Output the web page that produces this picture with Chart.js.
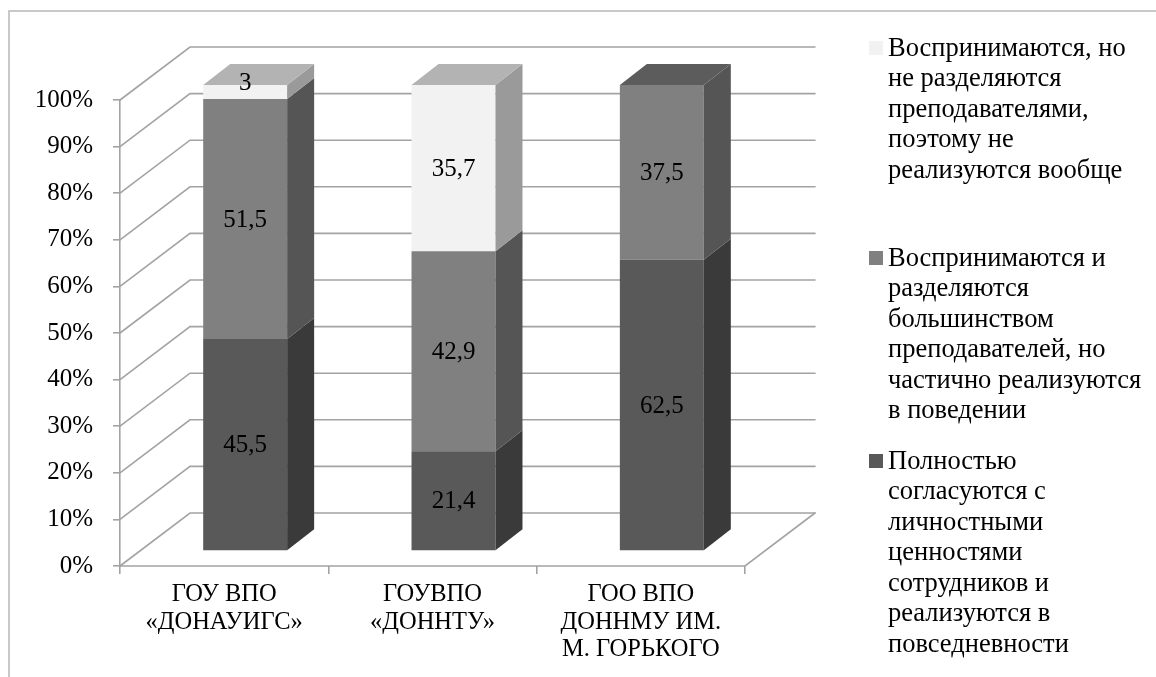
<!DOCTYPE html>
<html lang="ru">
<head>
<meta charset="utf-8">
<title>Ценности организационной культуры</title>
<script src="https://cdn.jsdelivr.net/npm/chart.js@4.4.1/dist/chart.umd.min.js"></script>
<style>
  html, body { margin: 0; padding: 0; background: #ffffff; }
  #wrap { width: 1156px; height: 677px; position: relative; }
  canvas { display: block; }
</style>
</head>
<body>
<div id="wrap"><canvas id="chart" width="1156" height="677"></canvas></div>
<script>
// Universities (multi-line axis labels)
const categories = [
  ["ГОУ ВПО", "«ДОНАУИГС»"],
  ["ГОУВПО", "«ДОННТУ»"],
  ["ГОО ВПО", "ДОННМУ ИМ.", "М. ГОРЬКОГО"]
];

// Shares, % (stacked from the bottom up)
const fullyAgree        = [45.5, 21.4, 62.5];
const acceptedShared    = [51.5, 42.9, 37.5];
const acceptedNotShared = [3, 35.7, 0];

// Series names, split into lines as shown in the legend
const nameFullyAgree = ["Полностью", "согласуются с", "личностными", "ценностями",
                        "сотрудников и", "реализуются в", "повседневности"];
const nameAcceptedShared = ["Воспринимаются и", "разделяются", "большинством",
                            "преподавателей, но", "частично реализуются", "в поведении"];
const nameAcceptedNotShared = ["Воспринимаются, но", "не разделяются", "преподавателями,",
                               "поэтому не", "реализуются вообще"];

// Value axis ticks
const yTicks = [0, 10, 20, 30, 40, 50, 60, 70, 80, 90, 100];

// Shading for the three box faces of each series
const palette = {
  dark:   { front: "#595959", side: "#3a3a3a", top: "#4a4a4a" },
  medium: { front: "#808080", side: "#555555", top: "#5c5c5c" },
  light:  { front: "#f2f2f2", side: "#9a9a9a", top: "#b3b3b3" }
};

const FONT_FAMILY = '"Liberation Serif", "Times New Roman", serif';
const GRID_COLOR = "#a3a3a3";
const WALL_DEPTH = { x: 70, y: -53 };   // back wall offset from the front plane
const BAR_SHIFT  = { x: 21, y: -15 };   // bars stand in the middle of the floor
const BAR_DEPTH  = { x: 27, y: -21 };   // thickness of each column

function fmt(v) { return String(v).replace(".", ","); }

// Frame, 3D walls/floor, column sides and tops, value labels, legend
const scene3d = {
  id: "scene3d",
  beforeDraw(chart) {
    const ctx = chart.ctx;
    ctx.save();
    ctx.strokeStyle = "#b8b8b8";
    ctx.lineWidth = 1.5;
    ctx.beginPath();
    ctx.moveTo(9, 677);
    ctx.lineTo(9, 11);
    ctx.lineTo(1156, 11);
    ctx.stroke();
    ctx.restore();
  },
  beforeDatasetsDraw(chart) {
    const ctx = chart.ctx;
    const yScale = chart.scales.y;
    const { left, right, bottom } = chart.chartArea;
    ctx.save();
    ctx.strokeStyle = GRID_COLOR;
    ctx.lineWidth = 1.6;
    ctx.lineCap = "round";
    yTicks.forEach(v => {
      const y = yScale.getPixelForValue(v);
      ctx.beginPath();
      ctx.moveTo(left, y);
      ctx.lineTo(left + WALL_DEPTH.x, y + WALL_DEPTH.y);
      ctx.lineTo(right + WALL_DEPTH.x, y + WALL_DEPTH.y);
      ctx.stroke();
    });
    // floor front and right edges
    ctx.beginPath();
    ctx.moveTo(left, bottom);
    ctx.lineTo(right, bottom);
    ctx.lineTo(right + WALL_DEPTH.x, bottom + WALL_DEPTH.y);
    ctx.stroke();
    ctx.restore();

    ctx.save();
    ctx.translate(BAR_SHIFT.x, BAR_SHIFT.y);
  },
  afterDatasetsDraw(chart) {
    const ctx = chart.ctx;
    const sets = chart.data.datasets;
    const n = chart.data.labels.length;
    for (let i = 0; i < n; i++) {
      let topIdx = -1;
      sets.forEach((ds, d) => {
        if (ds.data[i] > 0) topIdx = d;
      });
      sets.forEach((ds, d) => {
        if (!(ds.data[i] > 0)) return;
        const el = chart.getDatasetMeta(d).data[i];
        const r = el.x + el.width / 2;
        const l = el.x - el.width / 2;
        ctx.fillStyle = ds.faces.side;
        ctx.beginPath();
        ctx.moveTo(r, el.y);
        ctx.lineTo(r + BAR_DEPTH.x, el.y + BAR_DEPTH.y);
        ctx.lineTo(r + BAR_DEPTH.x, el.base + BAR_DEPTH.y);
        ctx.lineTo(r, el.base);
        ctx.closePath();
        ctx.fill();
        if (d === topIdx) {
          ctx.fillStyle = ds.faces.top;
          ctx.beginPath();
          ctx.moveTo(l, el.y);
          ctx.lineTo(r, el.y);
          ctx.lineTo(r + BAR_DEPTH.x, el.y + BAR_DEPTH.y);
          ctx.lineTo(l + BAR_DEPTH.x, el.y + BAR_DEPTH.y);
          ctx.closePath();
          ctx.fill();
        }
      });
    }
    // value labels on the front faces
    ctx.fillStyle = "#000000";
    ctx.font = "25px " + FONT_FAMILY;
    ctx.textAlign = "center";
    ctx.textBaseline = "middle";
    sets.forEach((ds, d) => {
      chart.getDatasetMeta(d).data.forEach((el, i) => {
        const v = ds.data[i];
        if (!(v > 0)) return;
        const h = el.base - el.y;
        // a thin segment gets its label lifted onto the column top
        const y = h < 24 ? el.y - 2 : (el.y + el.base) / 2 + 1;
        ctx.fillText(fmt(v), el.x, y);
      });
    });
    ctx.restore();
  },
  afterDraw(chart) {
    const ctx = chart.ctx;
    const sets = chart.data.datasets.slice().reverse();
    const starts = [48, 258, 461];
    const lineH = 30.5;
    ctx.save();
    ctx.font = "26.5px " + FONT_FAMILY;
    ctx.textAlign = "left";
    ctx.textBaseline = "middle";
    sets.forEach((ds, k) => {
      const y0 = starts[k];
      ctx.fillStyle = ds.backgroundColor;
      ctx.fillRect(869, y0 - 7, 14, 14);
      ctx.fillStyle = "#000000";
      ds.label.forEach((line, j) => {
        ctx.fillText(line, 888, y0 + j * lineH + 1);
      });
    });
    ctx.restore();
  }
};

const xTickFont = { family: FONT_FAMILY, size: 24.5, lineHeight: 1.12 };
const yTickFont = { family: FONT_FAMILY, size: 25 };

new Chart(document.getElementById("chart"), {
  type: "bar",
  data: {
    labels: categories,
    datasets: [
      { label: nameFullyAgree, data: fullyAgree,
        backgroundColor: palette.dark.front, faces: palette.dark },
      { label: nameAcceptedShared, data: acceptedShared,
        backgroundColor: palette.medium.front, faces: palette.medium },
      { label: nameAcceptedNotShared, data: acceptedNotShared,
        backgroundColor: palette.light.front, faces: palette.light }
    ].map(ds => Object.assign(ds, {
      borderWidth: 0, barPercentage: 0.403, categoryPercentage: 1, clip: false
    }))
  },
  options: {
    responsive: false,
    animation: false,
    devicePixelRatio: 1,
    layout: { padding: { top: 100, right: 411, left: 0, bottom: 0 } },
    plugins: { legend: { display: false }, tooltip: { enabled: false } },
    scales: {
      x: {
        stacked: true,
        offset: true,
        grid: { display: true, offset: true, drawOnChartArea: false, drawTicks: true,
                tickLength: 8, color: GRID_COLOR, lineWidth: 1.6 },
        border: { display: false },
        ticks: { font: xTickFont, color: "#000000", padding: 7,
                 maxRotation: 0, autoSkip: false },
        afterFit(scale) { scale.height = 111; }
      },
      y: {
        stacked: true,
        min: 0, max: 100,
        grid: { display: true, drawOnChartArea: false, drawTicks: true,
                tickLength: 7, color: GRID_COLOR, lineWidth: 1.6 },
        border: { display: true, color: GRID_COLOR, width: 1.6 },
        ticks: { stepSize: 10, font: yTickFont, color: "#000000", padding: 20,
                 callback: v => v + "%" },
        afterFit(scale) { scale.width = 120; }
      }
    }
  },
  plugins: [scene3d]
});
</script>
</body>
</html>
